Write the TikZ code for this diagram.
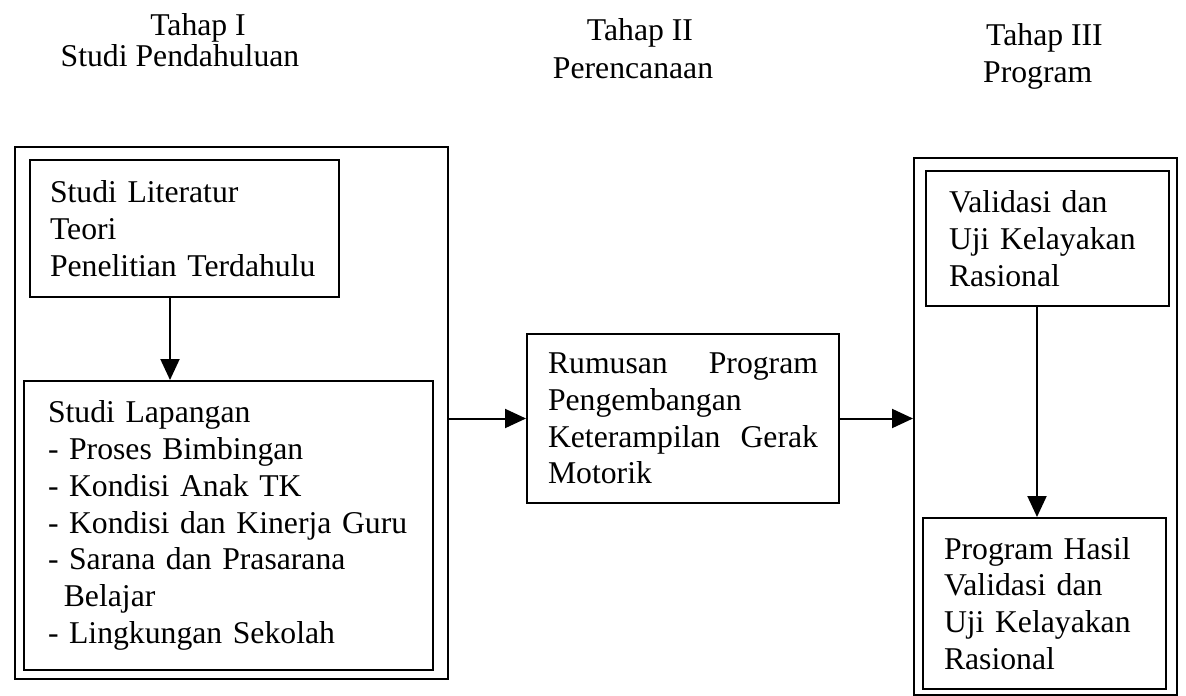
\documentclass[tikz,border=0pt]{standalone}
\usepackage{fontspec}
\setmainfont{Liberation Serif}
\usetikzlibrary{arrows.meta}
\begin{document}
\begin{tikzpicture}[x=1pt,y=-1pt,
  every node/.style={font=\fontsize{31.7}{36.8}\selectfont},
  box/.style={draw, line width=2pt, anchor=north west, align=left, inner ysep=0pt},
  outerbox/.style={draw, line width=2pt, anchor=north west, inner sep=0pt},
  head/.style={anchor=base, inner sep=0pt},
  arr/.style={-{Triangle[length=21pt,width=19pt]}, line width=2pt}]
\useasboundingbox (0,0) rectangle (1186,696);

% headers
\node[head] (h1a) at (198,35) {Tahap I};
\node[head] (h1b) at (180,66) {Studi Pendahuluan};
\node[head] (h2a) at (640,40) {Tahap II};
\node[head] (h2b) at (633,78) {Perencanaan};
\node[head, anchor=base west] (h3a) at (986,45) {Tahap III};
\node[head, anchor=base west] (h3b) at (983,82) {Program};

% outer frames
\node[outerbox, minimum width=433pt, minimum height=532pt] (outL) at (14,146) {};
\node[outerbox, minimum width=263pt, minimum height=537pt] (outR) at (913,157) {};

% boxes
\node[box, minimum width=309pt, minimum height=137pt, inner xsep=20pt, text width=269pt] (lit) at (29,159)
  {Studi Literatur\\Teori\\Penelitian Terdahulu};
\node[box, minimum width=409pt, minimum height=289pt, inner xsep=24pt, text width=361pt] (lap) at (23,380)
  {Studi Lapangan\\- Proses Bimbingan\\- Kondisi Anak TK\\- Kondisi dan Kinerja Guru\\- Sarana dan Prasarana\\\hspace*{0.5em}Belajar\\- Lingkungan Sekolah};
\node[box, minimum width=312pt, minimum height=169pt, inner xsep=21pt, text width=270pt] (rum) at (526,333)
  {Rumusan\hfill Program\\Pengembangan\\Keterampilan\hfill Gerak\\Motorik};
\node[box, minimum width=243pt, minimum height=135pt, inner xsep=23pt, text width=197pt] (val) at (925,170)
  {Validasi dan\\Uji Kelayakan\\Rasional};
\node[box, minimum width=243pt, minimum height=171pt, inner xsep=21pt, text width=201pt] (prog) at (922,517)
  {Program Hasil\\Validasi dan\\Uji Kelayakan\\Rasional};

% connectors
\coordinate (a1) at (170,0);
\coordinate (a2) at (1037,0);
\draw[arr] (lit.south -| a1) -- (lap.north -| a1);
\draw[arr] (rum.west -| outL.east) -- (rum.west);
\draw[arr] (rum.east) -- (rum.east -| outR.west);
\draw[arr] (val.south -| a2) -- (prog.north -| a2);
\end{tikzpicture}
\end{document}
